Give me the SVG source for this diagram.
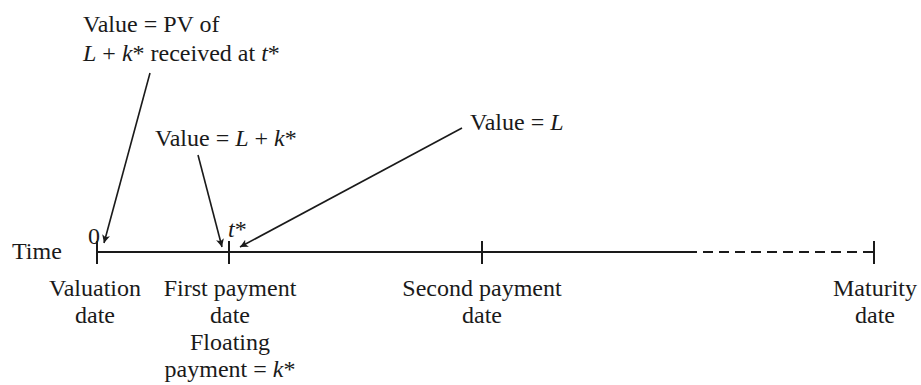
<svg xmlns="http://www.w3.org/2000/svg" width="921" height="385" viewBox="0 0 921 385">
<defs>
<style>
text{font-family:"Liberation Serif","Times New Roman",serif;font-size:24px;fill:#1a1a1a}
.c{text-anchor:middle}
.i{font-style:italic}
.ln{stroke:#1a1a1a;stroke-width:2;fill:none}
.ar{stroke:#1a1a1a;stroke-width:1.6;fill:none}
</style>
<marker id="ah" viewBox="0 0 10 10" refX="10" refY="5" markerWidth="11" markerHeight="8" markerUnits="userSpaceOnUse" orient="auto">
<path d="M0,0 L10,5 L0,10 L2.5,5 Z" fill="#1a1a1a"/>
</marker>
</defs>
<g id="timeline">
<text x="12" y="259">Time</text>
<line class="ln" x1="97" y1="252" x2="687" y2="252"/>
<line class="ln" x1="687" y1="252" x2="874" y2="252" stroke-dasharray="10,6"/>
<line class="ln" x1="97" y1="241" x2="97" y2="264"/>
<line class="ln" x1="229" y1="241" x2="229" y2="264"/>
<line class="ln" x1="482" y1="241" x2="482" y2="264"/>
<line class="ln" x1="874" y1="241" x2="874" y2="264"/>
<text x="88" y="244">0</text>
<text x="228" y="237" class="i">t<tspan font-style="normal">*</tspan></text>
</g>
<g id="valuation">
<text class="c" x="95" y="296">Valuation</text>
<text class="c" x="95" y="323">date</text>
</g>
<g id="first">
<text class="c" x="230" y="296">First payment</text>
<text class="c" x="230" y="323">date</text>
<text class="c" x="230" y="350">Floating</text>
<text class="c" x="230" y="377">payment = <tspan class="i">k</tspan>*</text>
</g>
<g id="second">
<text class="c" x="482" y="296">Second payment</text>
<text class="c" x="482" y="323">date</text>
</g>
<g id="maturity">
<text class="c" x="875" y="296">Maturity</text>
<text class="c" x="875" y="323">date</text>
</g>
<g id="label-pv">
<text x="83" y="32">Value = PV of</text>
<text x="83" y="61"><tspan class="i">L</tspan> + <tspan class="i">k</tspan>* received at <tspan class="i">t</tspan>*</text>
</g>
<g id="label-lk">
<text x="155" y="146">Value = <tspan class="i">L</tspan> + <tspan class="i">k</tspan>*</text>
</g>
<g id="label-l">
<text x="470" y="130">Value = <tspan class="i">L</tspan></text>
</g>
<g id="connectors">
<line class="ar" x1="150" y1="73" x2="104" y2="243" marker-end="url(#ah)"/>
<line class="ar" x1="198" y1="155" x2="222" y2="247" marker-end="url(#ah)"/>
<line class="ar" x1="462" y1="128" x2="240" y2="247" marker-end="url(#ah)"/>
</g>
</svg>
